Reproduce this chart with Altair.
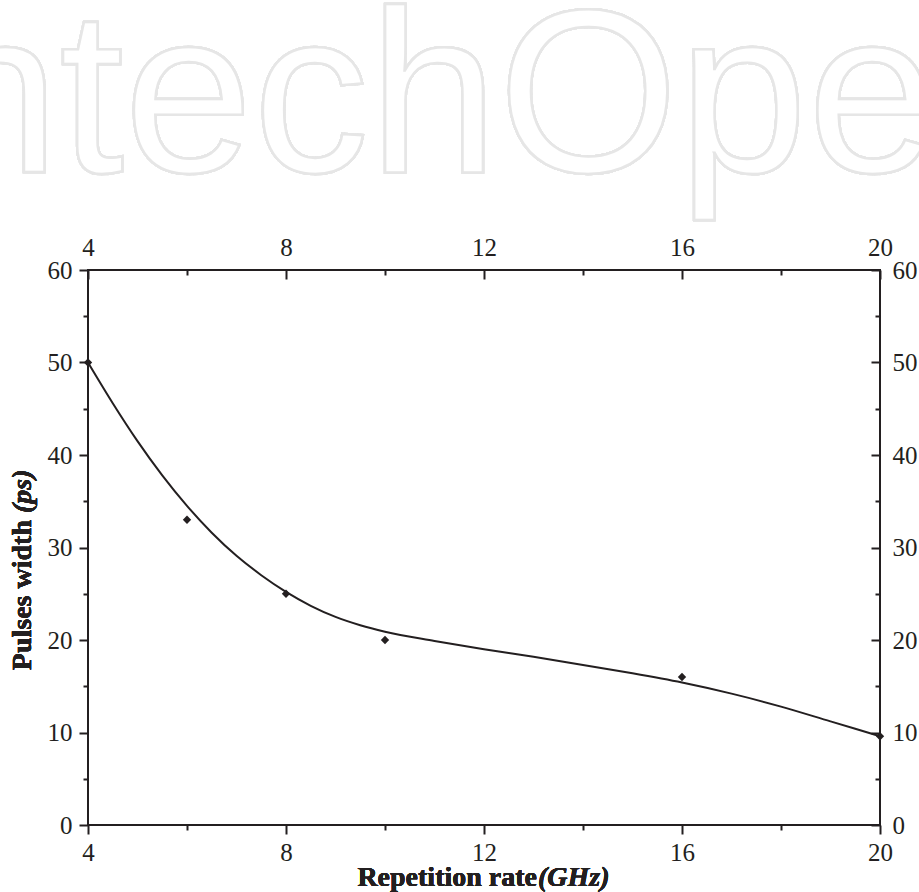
import altair as alt
import pandas as pd

# measured data points
rate_ghz = [4, 6, 8, 10, 16, 20]
pulse_ps = [50, 33, 25, 20, 16, 9.6]

# fitted curve
fit_x = [4, 4.5, 5, 5.5, 6, 6.5, 7, 7.5, 8, 8.5, 9, 9.5, 10, 11, 12, 13, 14, 15, 16, 17, 18, 19, 20]
fit_y = [50, 45.6, 41.5, 37.8, 34.5, 31.6, 29.1, 27.0, 25.2, 23.7, 22.5, 21.6, 20.9, 19.9, 19.0,
         18.2, 17.3, 16.4, 15.4, 14.2, 12.8, 11.2, 9.6]

x_major = [4, 8, 12, 16, 20]
x_minor = [6, 10, 14, 18]
y_major = [0, 10, 20, 30, 40, 50, 60]
y_minor = [5, 15, 25, 35, 45, 55]

pts = pd.DataFrame({"x": rate_ghz, "y": pulse_ps})
fit = pd.DataFrame({"x": fit_x, "y": fit_y})

FONT = "Liberation Serif"
INK = "#231f20"
xs = alt.Scale(domain=[4, 20], nice=False, zero=False)
ys = alt.Scale(domain=[0, 60], nice=False, zero=False)

common = dict(domain=False, grid=False, title=None, tickColor=INK, tickWidth=2,
              labelFont=FONT, labelFontSize=25, labelColor=INK, labelFlush=False,
              labelOverlap=False, format="d")


def major(orient, values, offset, pad):
    return alt.Axis(orient=orient, values=values, offset=offset, tickSize=9,
                    labelPadding=pad, **common)


def minor(orient, values, offset):
    return alt.Axis(orient=orient, values=values, offset=offset, tickSize=5,
                    labels=False, domain=False, grid=False, title=None,
                    tickColor=INK, tickWidth=2)


line = alt.Chart(fit).mark_line(color=INK, strokeWidth=2, interpolate="monotone").encode(
    x=alt.X("x:Q", scale=xs, axis=major("bottom", x_major, 0, 6)),
    y=alt.Y("y:Q", scale=ys, axis=major("left", y_major, 0, 7)),
)

points = alt.Chart(pts).mark_point(shape="diamond", filled=True, size=70, color=INK, opacity=1).encode(
    x=alt.X("x:Q", scale=xs, axis=minor("bottom", x_minor, 0)),
    y=alt.Y("y:Q", scale=ys, axis=minor("left", y_minor, 0)),
)

top_right_major = alt.Chart(pts).mark_point(opacity=0).encode(
    x=alt.X("x:Q", scale=xs, axis=major("top", x_major, -9, 10)),
    y=alt.Y("y:Q", scale=ys, axis=major("right", y_major, -9, 12)),
)

top_right_minor = alt.Chart(pts).mark_point(opacity=0).encode(
    x=alt.X("x:Q", scale=xs, axis=minor("top", x_minor, -5)),
    y=alt.Y("y:Q", scale=ys, axis=minor("right", y_minor, -5)),
)

watermark = alt.Chart(pts).mark_text(
    text="IntechOpen", font="Liberation Sans", fontSize=232, align="left", baseline="alphabetic",
    fill="white", stroke="#e6e6e6", strokeWidth=2.5,
).encode(x=alt.value(-222), y=alt.value(-98))

TS = 28
xtitle_a = alt.Chart(pts).mark_text(
    text="Repetition rate", font=FONT, fontSize=TS, fontWeight="bold", align="right",
    baseline="alphabetic", color=INK,
).encode(x=alt.value(449), y=alt.value(616))
xtitle_b = alt.Chart(pts).mark_text(
    text="(GHz)", font=FONT, fontSize=TS, fontWeight="bold", fontStyle="italic", align="left",
    baseline="alphabetic", color=INK,
).encode(x=alt.value(450), y=alt.value(616))

ytitle_a = alt.Chart(pts).mark_text(
    text="Pulses width", font=FONT, fontSize=TS, fontWeight="bold", align="right",
    baseline="alphabetic", angle=270, color=INK,
).encode(x=alt.value(-57), y=alt.value(250))
ytitle_b = alt.Chart(pts).mark_text(
    text="(ps)", font=FONT, fontSize=TS, fontWeight="bold", fontStyle="italic", align="left",
    baseline="alphabetic", angle=270, color=INK,
).encode(x=alt.value(-57), y=alt.value(243))

chart = alt.layer(
    watermark, line, points, top_right_major, top_right_minor,
    xtitle_a, xtitle_b, ytitle_a, ytitle_b,
).resolve_axis(x="independent", y="independent").properties(
    width=792, height=555,
    padding={"left": 88, "top": 270, "right": 39, "bottom": 67},
    autosize=alt.AutoSizeParams(type="none"),
    background="white",
).configure_view(stroke=INK, strokeWidth=2)

chart.save("out.html", embed_options={"renderer": "svg", "actions": False})
